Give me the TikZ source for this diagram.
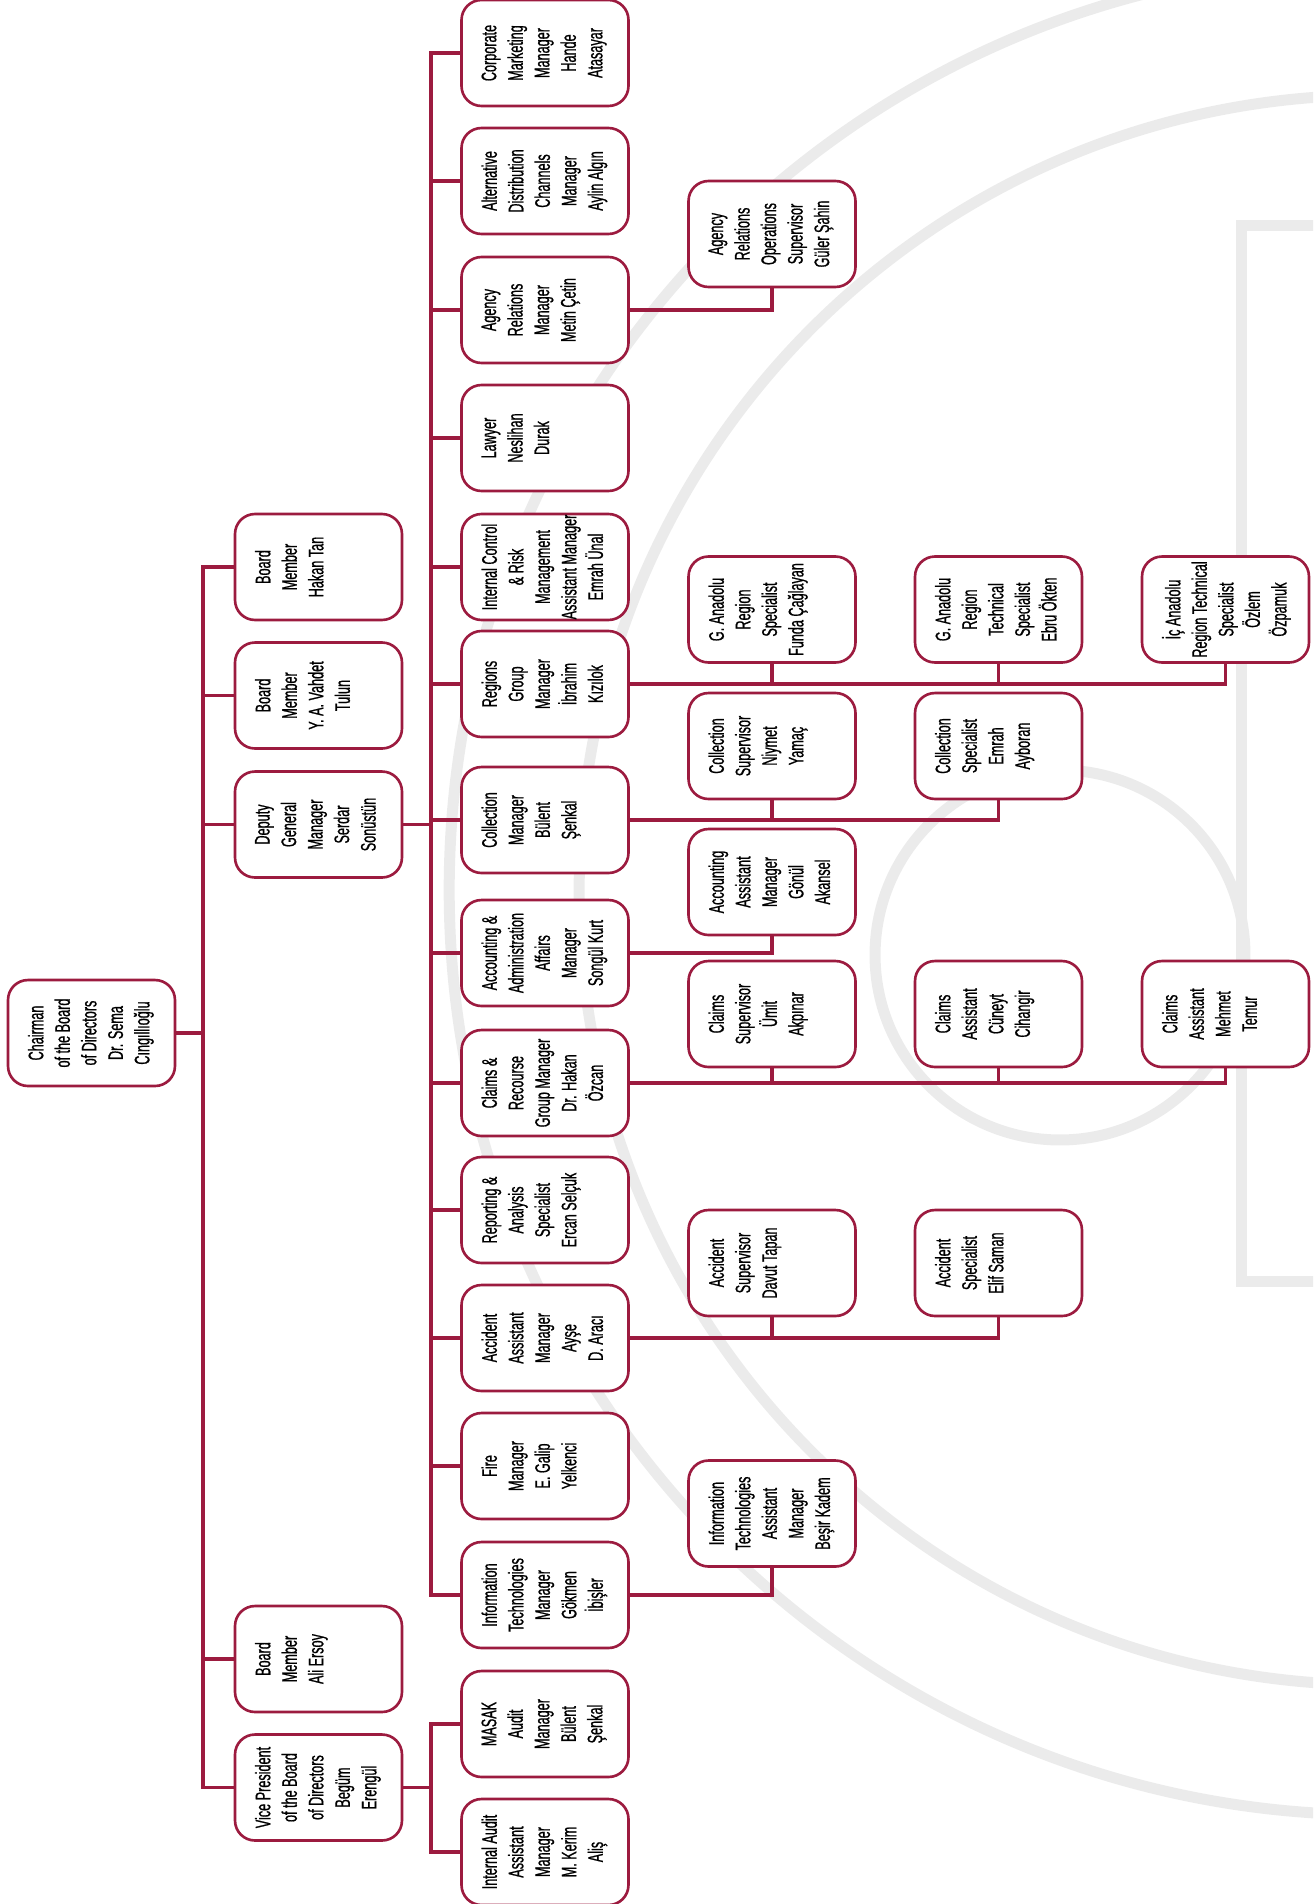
\documentclass[tikz,border=0pt]{standalone}
\usepackage{fontspec}
\setmainfont{Liberation Sans}[FakeStretch=0.6, FakeBold=0.8]
\usepackage{graphicx}
\definecolor{crimson}{HTML}{9C1B3F}
\definecolor{wmark}{HTML}{EBEBEB}

% rotated text block, first line at the left edge of the card
\newcommand{\cardtext}[1]{\rotatebox{90}{\begin{minipage}[c][3.34cm][t]{2.12cm}%
  \centering\hyphenpenalty=10000\relax\vspace*{0.40cm}#1\end{minipage}}}

\begin{document}
\begin{tikzpicture}[
  x=0.02cm, y=-0.02cm,
  card/.style={draw=crimson, line width=1.5pt, fill=white, rounded corners=0.4cm,
    minimum width=3.34cm, minimum height=2.12cm, inner sep=0pt,
    font=\fontsize{12}{15.1}\selectfont},
  link/.style={draw=crimson, line width=1.9pt},
  wm/.style={draw=wmark, line width=0.22cm},
]
\useasboundingbox (0,0) rectangle (1313,1904);

% === Watermark (faint rings and frame) ===
\begin{scope}
  \clip (0,0) rectangle (1313,1904);
  \draw[wm] (1374,890) circle[radius=18.5cm];
  \draw[wm] (1374,890) circle[radius=15.9cm];
  \draw[wm] (1060,955) circle[radius=3.7cm];
  \draw[wm] (1320,225) -- (1241,225) -- (1241,1281) -- (1320,1281);
\end{scope}

% === Chairman ===
\node[card] (chair) at (91.5,1033) {\cardtext{Chairman\\of the Board\\of Directors\\Dr. Sema\\Cıngıllıoğlu}};

% === Board level ===
\node[card] (hakan)  at (318.5,567)    {\cardtext{Board\\Member\\Hakan Tan}};
\node[card] (vahdet) at (318.5,695.5)  {\cardtext{Board\\Member\\Y. A. Vahdet\\Tulun}};
\node[card] (deputy) at (318.5,824.5)  {\cardtext{Deputy\\General\\Manager\\Serdar\\Sonüstün}};
\node[card] (ersoy)  at (318.5,1659)   {\cardtext{Board\\Member\\Ali Ersoy}};
\node[card] (vice)   at (318.5,1787.5) {\cardtext{Vice President\\of the Board\\of Directors\\Begüm\\Erengül}};

% === Managers ===
\node[card] (corp)     at (545,53)     {\cardtext{Corporate\\Marketing\\Manager\\Hande\\Atasayar}};
\node[card] (altdist)  at (545,181)    {\cardtext{Alternative\\Distribution\\Channels\\Manager\\Aylin Algın}};
\node[card] (agency)   at (545,310)    {\cardtext{Agency\\Relations\\Manager\\Metin Çetin}};
\node[card] (lawyer)   at (545,438)    {\cardtext{Lawyer\\Neslihan\\Durak}};
\node[card] (intctrl)  at (545,567)    {\cardtext{Internal Control\\\& Risk\\Management\\Assistant Manager\\Emrah Ünal}};
\node[card] (regions)  at (545,684)    {\cardtext{Regions\\Group\\Manager\\İbrahim\\Kızılok}};
\node[card] (collect)  at (545,820)    {\cardtext{Collection\\Manager\\Bülent\\Şenkal}};
\node[card] (account)  at (545,953)    {\cardtext{Accounting \&\\Administration\\Affairs\\Manager\\Songül Kurt}};
\node[card] (claims)   at (545,1083)   {\cardtext{Claims \&\\Recourse\\Group Manager\\Dr. Hakan\\Özcan}};
\node[card] (report)   at (545,1210)   {\cardtext{Reporting \&\\Analysis\\Specialist\\Ercan Selçuk}};
\node[card] (accid)    at (545,1338)   {\cardtext{Accident\\Assistant\\Manager\\Ayşe\\D. Aracı}};
\node[card] (fire)     at (545,1466)   {\cardtext{Fire\\Manager\\E. Galip\\Yelkenci}};
\node[card] (itman)    at (545,1595)   {\cardtext{Information\\Technologies\\Manager\\Gökmen\\İbişler}};
\node[card] (masak)    at (545,1724)   {\cardtext{MASAK\\Audit\\Manager\\Bülent\\Şenkal}};
\node[card] (intaudit) at (545,1852)   {\cardtext{Internal Audit\\Assistant\\Manager\\M. Kerim\\Aliş}};

% === Staff ===
\node[card] (agops)  at (772,234)     {\cardtext{Agency\\Relations\\Operations\\Supervisor\\Güler Şahin}};
\node[card] (funda)  at (772,609.5)   {\cardtext{G. Anadolu\\Region\\Specialist\\Funda Çağlayan}};
\node[card] (ebru)   at (998.5,609.5) {\cardtext{G. Anadolu\\Region\\Technical\\Specialist\\Ebru Ökten}};
\node[card] (ozlem)  at (1225.5,609.5){\cardtext{İç Anadolu\\Region Technical\\Specialist\\Özlem\\Özpamuk}};
\node[card] (niymet) at (772,746)     {\cardtext{Collection\\Supervisor\\Niymet\\Yamaç}};
\node[card] (emrah)  at (998.5,746)   {\cardtext{Collection\\Specialist\\Emrah\\Ayboran}};
\node[card] (gonul)  at (772,882)     {\cardtext{Accounting\\Assistant\\Manager\\Gönül\\Akansel}};
\node[card] (umit)   at (772,1014)    {\cardtext{Claims\\Supervisor\\Ümit\\Akpınar}};
\node[card] (cuneyt) at (998.5,1014)  {\cardtext{Claims\\Assistant\\Cüneyt\\Cihangir}};
\node[card] (mehmet) at (1225.5,1014) {\cardtext{Claims\\Assistant\\Mehmet\\Temur}};
\node[card] (davut)  at (772,1263)    {\cardtext{Accident\\Supervisor\\Davut Tapan}};
\node[card] (elif)   at (998.5,1263)  {\cardtext{Accident\\Specialist\\Elif Saman}};
\node[card] (besir)  at (772,1513.5)  {\cardtext{Information\\Technologies\\Assistant\\Manager\\Beşir Kadem}};

% === Connectors ===
\coordinate (boardbus)  at (203,1033);
\coordinate (deputybus) at (431,824.5);
\coordinate (vicebus)   at (431,1787.5);

\draw[link] (chair.east) -- (boardbus);
\foreach \n in {hakan,vahdet,deputy,ersoy,vice}
  \draw[link] (boardbus) |- (\n.west);

\draw[link] (deputy.east) -- (deputybus);
\foreach \n in {corp,altdist,agency,lawyer,intctrl,regions,collect,account,claims,report,accid,fire,itman}
  \draw[link] (deputybus) |- (\n.west);

\draw[link] (vice.east) -- (vicebus);
\foreach \n in {masak,intaudit}
  \draw[link] (vicebus) |- (\n.west);

\draw[link] (agency.east) -| (agops.south);
\foreach \n in {funda,ebru,ozlem}
  \draw[link] (regions.east) -| (\n.south);
\foreach \n in {niymet,emrah}
  \draw[link] (collect.east) -| (\n.south);
\draw[link] (account.east) -| (gonul.south);
\foreach \n in {umit,cuneyt,mehmet}
  \draw[link] (claims.east) -| (\n.south);
\foreach \n in {davut,elif}
  \draw[link] (accid.east) -| (\n.south);
\draw[link] (itman.east) -| (besir.south);

\end{tikzpicture}
\end{document}
